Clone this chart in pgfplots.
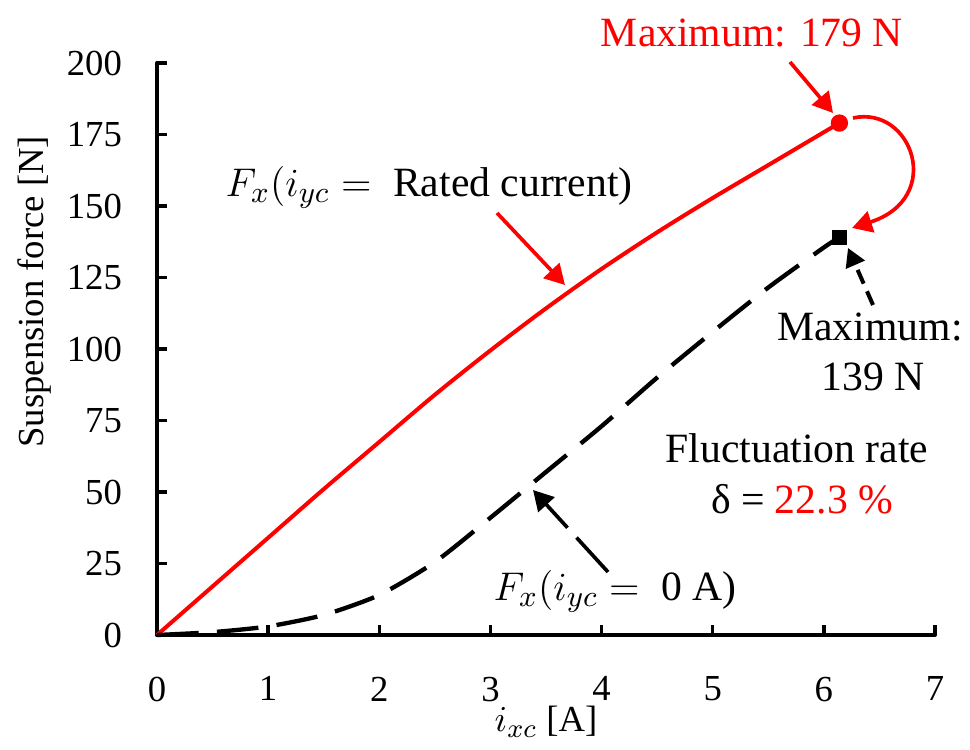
\documentclass[border=0pt]{standalone}
\usepackage{fontspec}
\setmainfont{LiberationSerif}[Extension=.ttf, UprightFont=*-Regular, ItalicFont=*-Italic, BoldFont=*-Bold, BoldItalicFont=*-BoldItalic]
\usepackage{pgfplots}
\pgfplotsset{compat=1.18}
\usetikzlibrary{arrows.meta}
\begin{document}
\begin{tikzpicture}
\useasboundingbox (0,0) rectangle (291pt,224.7pt);
\begin{axis}[
  at={(47.1pt,34.2pt)}, anchor=south west,
  scale only axis, width=233.4pt, height=171.6pt,
  xmin=0, xmax=7, ymin=0, ymax=200,
  axis x line*=bottom, axis y line*=left,
  axis line style={line width=1.2pt, line cap=round},
  xtick={0,...,7}, ytick={0,25,...,200},
  tick align=inside,
  major tick length=3pt,
  tick style={line width=1pt, black},
  /pgf/number format/assume math mode=true,
  tick label style={font=\fontsize{11}{13}\selectfont},
  xticklabel style={yshift=-9pt},
  yticklabel style={xshift=-7pt},
  label style={font=\fontsize{11}{13}\selectfont},
  xlabel={$i_{xc}$ [A]},
  ylabel={Suspension force [N]},
  xlabel style={at={(axis description cs:0.5,-0.152)}, anchor=center},
  ylabel style={at={(axis description cs:-0.157,0.6)}, anchor=center},
  clip=false,
]
\addplot[red, line width=1.2pt, smooth, tension=0.5] coordinates {
(0,0) (0.5,17) (1,34) (1.5,51) (2,67.5) (2.5,84) (3,99.5) (3.5,114.2) (4,128)
(4.5,140.8) (5,152.8) (5.5,164.3) (6,175.8) (6.14,179)};
\addplot[black, line width=1.3pt, smooth, tension=0.4, dash pattern=on 12.5pt off 5.5pt] coordinates {
(0,0) (0.5,1) (1,3) (1.5,7) (2,14) (2.5,25.5) (3,41) (3.5,57) (4,73)
(4.5,90) (5,106) (5.5,121.5) (6,135.5) (6.14,139)};
\addplot[red, only marks, mark=*, mark size=2.4pt] coordinates {(6.14,179)};
\addplot[black, only marks, mark=square*, mark size=2pt] coordinates {(6.14,139)};
\end{axis}
\begin{scope}[x=0.3pt, y=-0.3pt, shift={(0pt,224.7pt)}, font=\fontsize{12.5}{15}\selectfont]
\node[red, anchor=base] at (752,47) {Maximum: 179 N};
\draw[red, line width=1.1pt, -{Triangle[length=6pt,width=6.5pt]}] (790,62) -- (833,113);
\draw[red, line width=1.1pt, -{Triangle[length=6pt,width=6.5pt]}] (853,118) .. controls (912,105) and (945,198) .. (852,228);
\node[anchor=base] at (870,340) {Maximum:};
\node[anchor=base] at (873,390) {139 N};
\draw[black, line width=1.2pt, dash pattern=on 4.5pt off 2.5pt, -{Triangle[length=5.5pt,width=6pt]}] (873,305) -- (848,248);
\node[anchor=base] at (797,462) {Fluctuation rate};
\node[anchor=base] at (802,513) {δ = \textcolor{red}{22.3 \%}};
\node[anchor=base west, inner sep=0pt] at (225,197) {$F_x(i_{yc} ={}$ Rated current)};
\draw[red, line width=1.1pt, -{Triangle[length=6pt,width=6.5pt]}] (497,213) -- (565,285);
\node[anchor=base west, inner sep=0pt] at (493,600) {$F_x(i_{yc} ={}$ 0 A)};
\draw[black, line width=1.1pt, dash pattern=on 14pt off 4pt, -{Triangle[length=6pt,width=6.5pt]}] (608,572) -- (533,490);
\end{scope}
\end{tikzpicture}
\end{document}
